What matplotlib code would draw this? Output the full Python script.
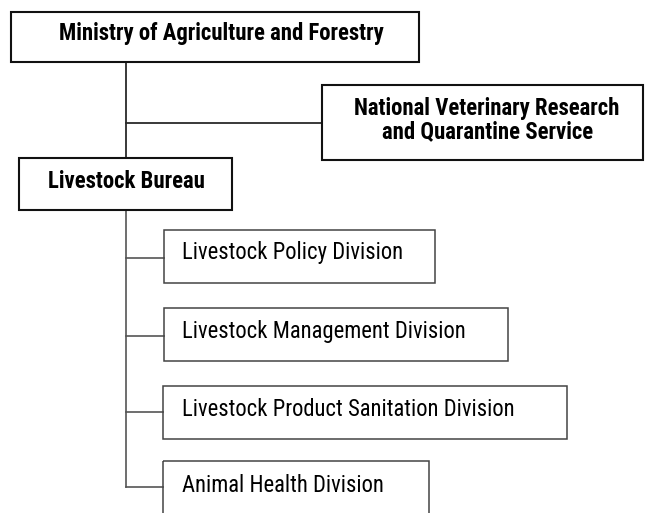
import matplotlib.pyplot as plt
from matplotlib.patches import Rectangle

# org chart labels
top_unit = 'Ministry of Agriculture and Forestry'
side_unit = ['National Veterinary Research', 'and Quarantine Service']
bureau = 'Livestock Bureau'
divisions = ['Livestock Policy Division',
             'Livestock Management Division',
             'Livestock Product Sanitation Division',
             'Animal Health Division']

# layout in pixel units (x0, y0, x1, y1), y grows downward
top_box = (11, 12, 419, 62)
side_box = (322, 85, 643, 160)
bureau_box = (19, 158, 232, 210)
div_boxes = [(164, 230, 435, 283),
             (164, 308, 508, 361),
             (163, 386, 567, 439),
             (163, 461, 429, 530)]
div_text_x = 182
div_base_y = [259, 338, 416.5, 491.5]
div_link_y = [258, 336, 412, 487]
trunk_x = 126

font = 'Roboto Condensed'

fig = plt.figure(figsize=(6.45, 5.13), dpi=100)
ax = fig.add_axes([0, 0, 1, 1])
ax.set_xlim(0, 645)
ax.set_ylim(513, 0)
ax.axis('off')

def box(b, lw, color):
    x0, y0, x1, y1 = b
    ax.add_patch(Rectangle((x0, y0), x1 - x0, y1 - y0, fill=False,
                           lw=lw, edgecolor=color, zorder=3))

# connectors
ax.plot([trunk_x, trunk_x], [top_box[3], bureau_box[1]], color='#2a2a2a', lw=1.3)
ax.plot([trunk_x, side_box[0]], [123, 123], color='#2a2a2a', lw=1.3)
ax.plot([trunk_x, trunk_x], [bureau_box[3], div_link_y[-1]], color='#555555', lw=1.2)
for b, ly in zip(div_boxes, div_link_y):
    ax.plot([trunk_x, b[0]], [ly, ly], color='#555555', lw=1.2)

box(top_box, 1.5, '#111111')
box(side_box, 1.5, '#111111')
box(bureau_box, 1.5, '#111111')
for b in div_boxes:
    box(b, 1.1, '#444444')

bold = dict(fontfamily=font, fontweight='bold', fontsize=16.4, color='black',
            ha='center', va='baseline')
ax.text(221, 40, top_unit, **bold)
ax.text(487, 115, side_unit[0], **bold)
ax.text(488, 138, side_unit[1], **bold)
ax.text(126, 188, bureau, **bold)

for t, ty in zip(divisions, div_base_y):
    ax.text(div_text_x, ty, t, ha='left', va='baseline', fontfamily=font,
            fontsize=16.3, color='black')

fig.savefig('out.png', dpi=100)
